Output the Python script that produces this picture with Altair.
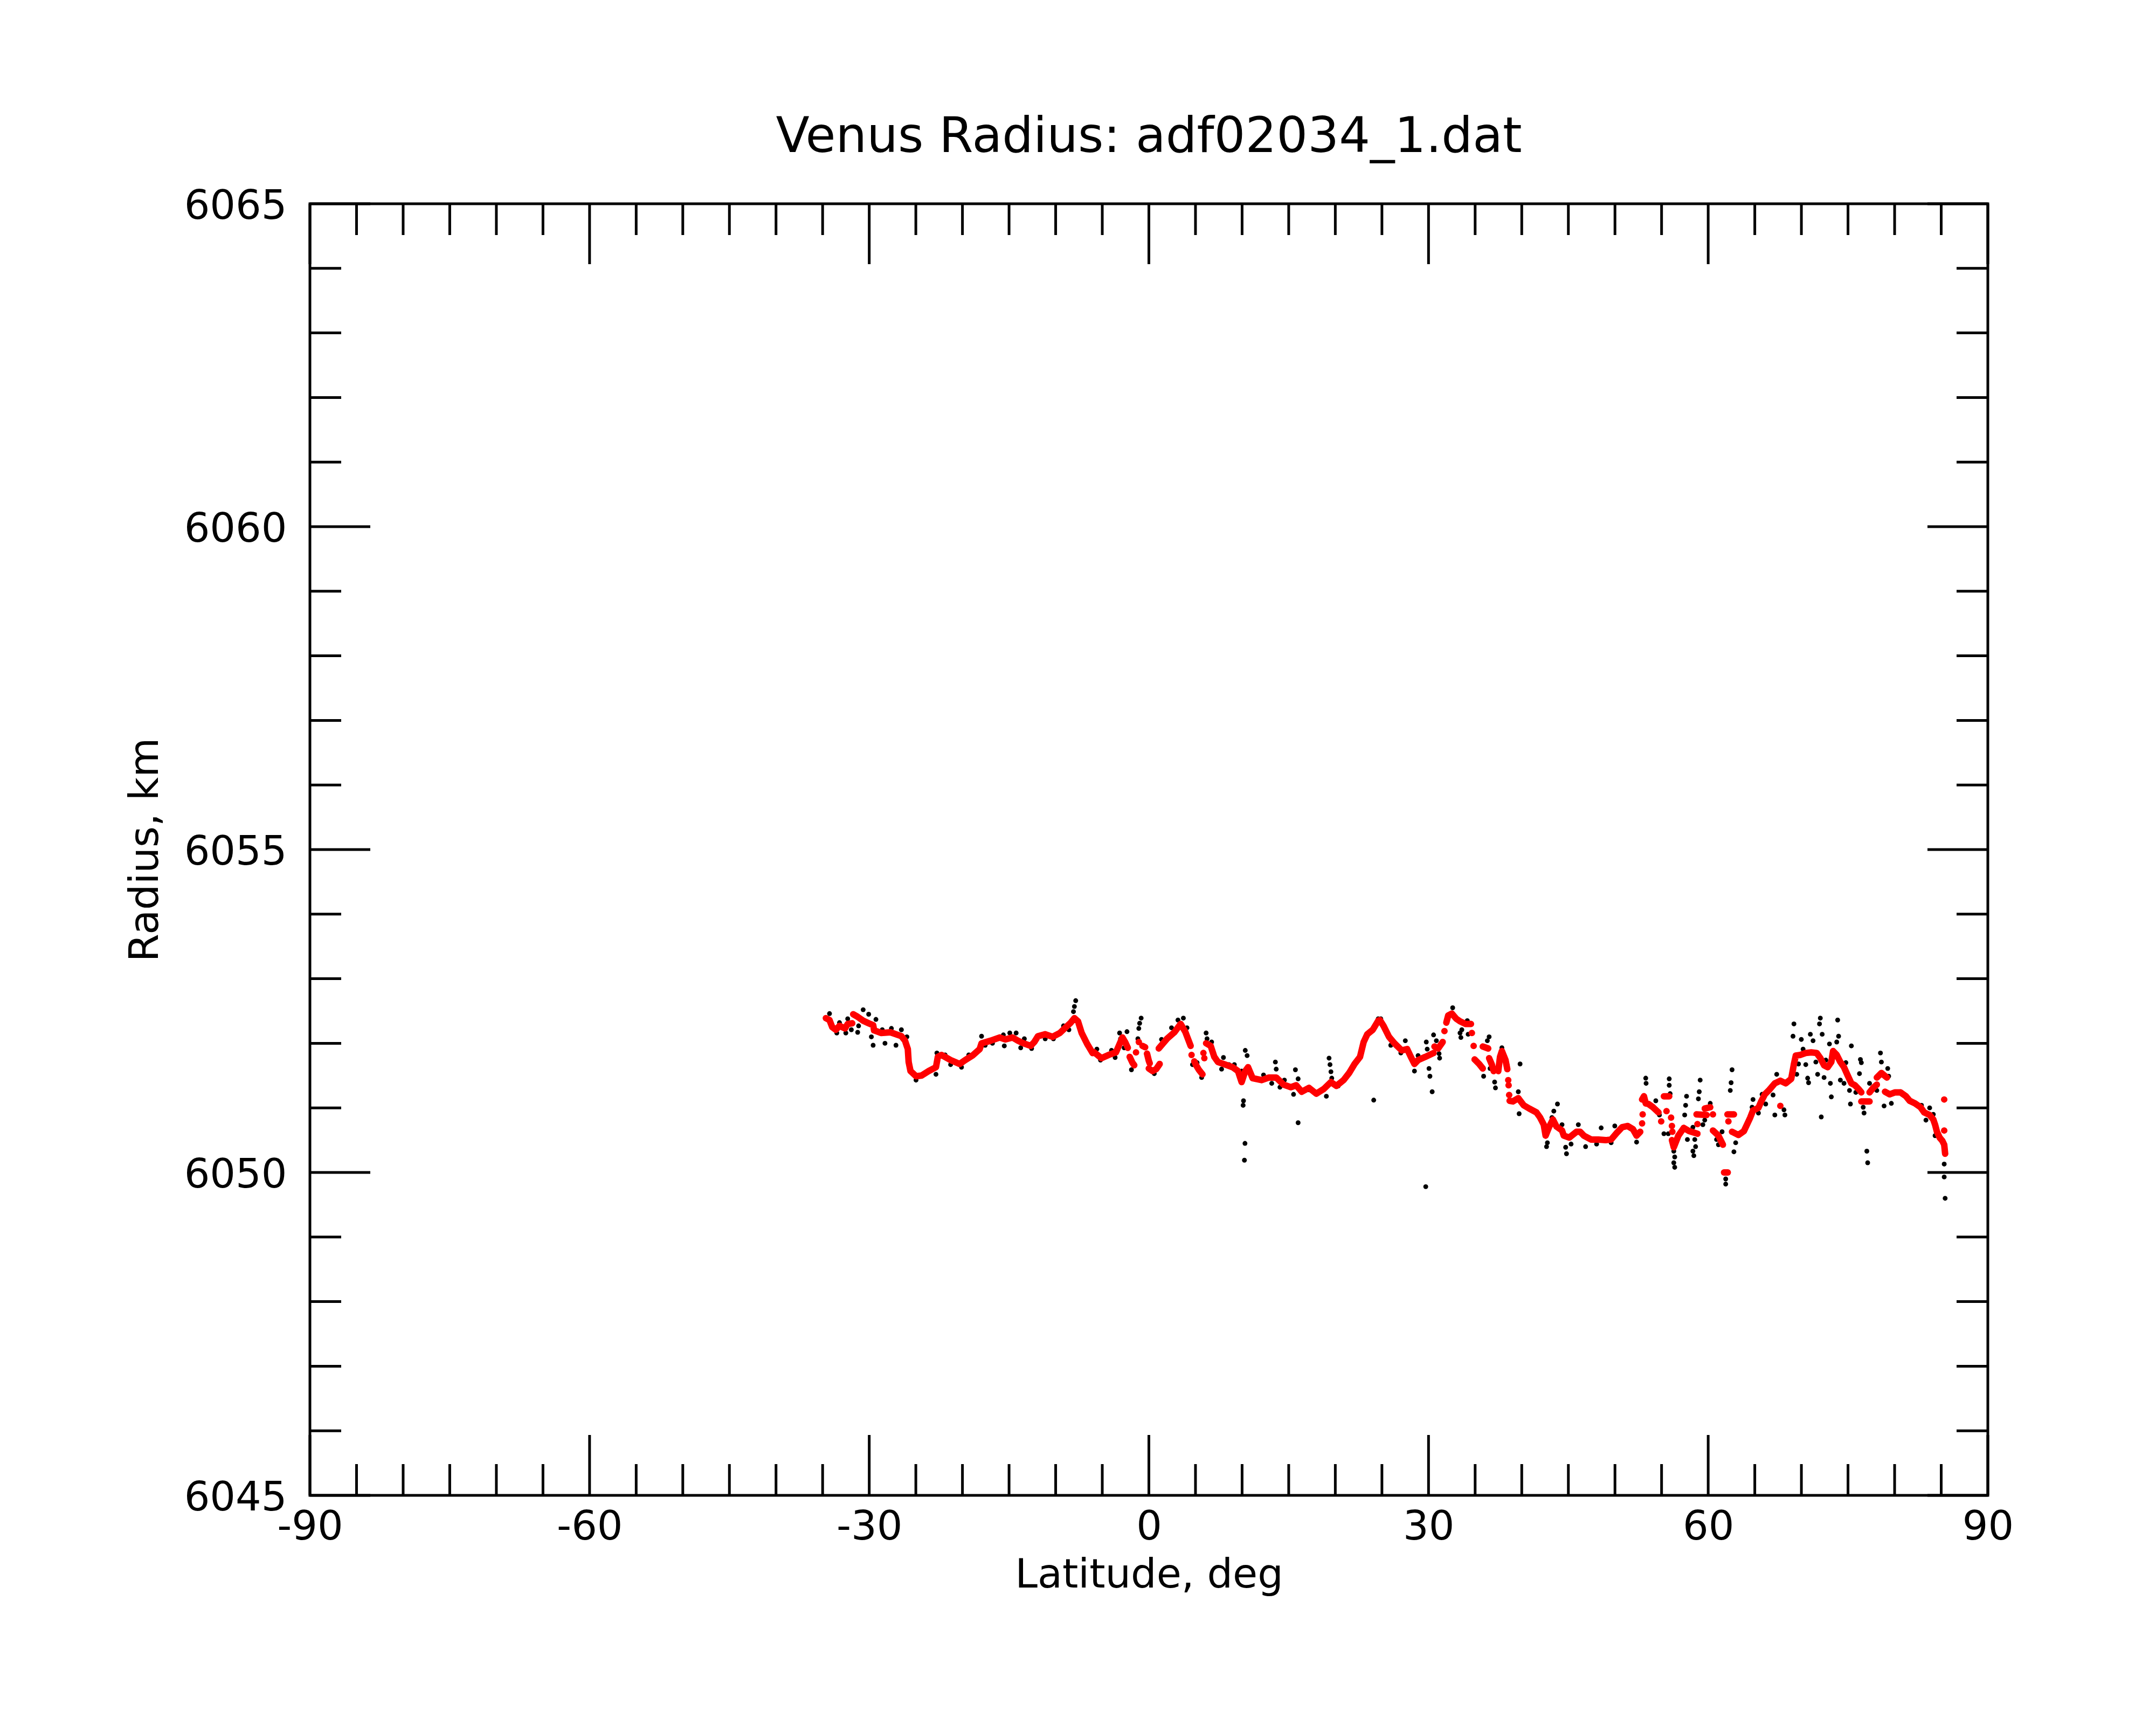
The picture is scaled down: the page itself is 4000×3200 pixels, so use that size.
import altair as alt
import pandas as pd

W, H = 3113, 2396
FONT = "DejaVu Sans"

# ---------------- data ----------------
# red smoothed profile: each inner list is one unbroken run of (latitude, radius)
red_runs = [
    [(-34.65, 6052.39), (-34.26, 6052.36), (-33.97, 6052.25), (-33.58, 6052.21), (-33.19, 6052.27),
     (-32.60, 6052.23), (-32.31, 6052.30), (-31.82, 6052.31)],
    [(-31.72, 6052.45), (-31.24, 6052.41), (-30.65, 6052.35), (-30.06, 6052.31), (-29.57, 6052.28),
     (-29.48, 6052.20), (-28.70, 6052.16), (-27.72, 6052.17), (-27.13, 6052.14), (-26.55, 6052.11),
     (-26.16, 6052.04), (-25.86, 6051.91), (-25.77, 6051.71), (-25.57, 6051.57), (-24.98, 6051.49),
     (-24.40, 6051.50), (-23.62, 6051.57), (-22.84, 6051.63), (-22.64, 6051.79), (-22.25, 6051.82),
     (-21.27, 6051.74), (-20.30, 6051.68), (-19.71, 6051.74), (-18.93, 6051.81), (-18.15, 6051.91),
     (-17.95, 6052.00), (-16.98, 6052.04), (-16.00, 6052.09), (-15.41, 6052.06), (-14.63, 6052.09),
     (-14.04, 6052.04), (-13.46, 6052.00), (-12.68, 6051.96), (-12.29, 6052.02), (-11.90, 6052.11),
     (-11.12, 6052.14), (-10.33, 6052.10), (-9.55, 6052.16), (-8.97, 6052.24), (-8.38, 6052.32),
     (-7.99, 6052.39), (-7.60, 6052.34), (-7.21, 6052.16), (-6.62, 6051.99), (-6.04, 6051.85),
     (-5.87, 6051.86), (-5.09, 6051.77), (-4.31, 6051.82), (-3.53, 6051.86), (-2.84, 6052.09),
     (-2.55, 6052.02), (-2.26, 6051.93)],
    [(-2.06, 6051.79), (-1.77, 6051.70), (-1.57, 6051.66)],
    [(-1.38, 6051.86)],
    [(-1.08, 6052.02)],
    [(-0.69, 6051.96), (-0.40, 6051.94)],
    [(-0.20, 6051.84), (-0.01, 6051.73), (0.09, 6051.69)],
    [(-0.01, 6051.61), (0.39, 6051.57), (0.78, 6051.60), (1.16, 6051.68)],
    [(1.06, 6051.92), (1.94, 6052.07), (2.73, 6052.17), (3.41, 6052.30), (3.90, 6052.18), (4.48, 6051.96)],
    [(4.58, 6051.82)],
    [(4.87, 6051.72), (5.07, 6051.66), (5.36, 6051.59), (5.75, 6051.52)],
    [(5.85, 6051.85)],
    [(5.95, 6051.77)],
    [(6.14, 6052.00), (6.63, 6051.96), (7.02, 6051.79), (7.41, 6051.71), (8.20, 6051.67),
     (8.98, 6051.63), (9.56, 6051.57), (9.95, 6051.40), (10.34, 6051.57), (10.64, 6051.63),
     (11.13, 6051.46), (12.10, 6051.43), (12.88, 6051.47), (13.66, 6051.47), (14.45, 6051.36),
     (15.23, 6051.32), (15.81, 6051.35), (16.40, 6051.25), (17.18, 6051.31), (17.96, 6051.22),
     (18.74, 6051.29), (19.53, 6051.40), (20.11, 6051.34), (20.89, 6051.43), (21.48, 6051.54),
     (22.07, 6051.68), (22.65, 6051.79), (23.04, 6052.02), (23.43, 6052.14), (24.02, 6052.21),
     (24.60, 6052.35), (24.78, 6052.36), (25.17, 6052.27), (25.76, 6052.10), (26.34, 6052.00),
     (27.12, 6051.89), (27.71, 6051.91), (28.10, 6051.79), (28.49, 6051.68), (28.88, 6051.74),
     (29.66, 6051.79), (30.54, 6051.85)],
    [(30.64, 6051.95), (31.03, 6051.92), (31.52, 6052.02)],
    [(31.71, 6052.19)],
    [(31.91, 6052.32), (32.11, 6052.43), (32.50, 6052.46), (32.98, 6052.38), (33.38, 6052.34),
     (33.96, 6052.30), (34.55, 6052.30)],
    [(34.65, 6052.16)],
    [(34.84, 6051.96)],
    [(34.94, 6051.75), (35.43, 6051.68), (35.82, 6051.61)],
    [(35.82, 6051.95), (36.40, 6051.92)],
    [(36.50, 6051.77), (36.79, 6051.67), (36.99, 6051.57)],
    [(37.48, 6051.57), (37.67, 6051.79), (37.87, 6051.88), (38.26, 6051.74), (38.45, 6051.60)],
    [(38.55, 6051.43)],
    [(38.59, 6051.35)],
    [(38.65, 6051.20)],
    [(38.70, 6051.11), (39.04, 6051.10), (39.63, 6051.15), (40.21, 6051.04), (40.80, 6050.99),
     (41.58, 6050.93), (41.97, 6050.85), (42.36, 6050.74), (42.56, 6050.57), (42.95, 6050.71),
     (43.34, 6050.82), (43.73, 6050.71), (44.32, 6050.65), (44.51, 6050.57), (45.10, 6050.54),
     (45.88, 6050.63), (46.27, 6050.63), (46.66, 6050.57), (47.44, 6050.51), (48.22, 6050.51),
     (49.00, 6050.50), (49.59, 6050.51), (50.18, 6050.61), (50.76, 6050.70), (51.35, 6050.72),
     (51.93, 6050.67), (52.32, 6050.57), (52.71, 6050.63)],
    [(52.91, 6050.76)],
    [(52.97, 6050.90)],
    [(52.91, 6051.13), (53.11, 6051.18), (53.30, 6051.07), (53.59, 6051.06), (54.08, 6051.01),
     (54.67, 6050.93)],
    [(54.96, 6050.79)],
    [(55.25, 6051.18), (55.43, 6051.18), (55.82, 6051.18)],
    [(55.53, 6050.95)],
    [(56.02, 6050.85)],
    [(56.11, 6050.72)],
    [(56.16, 6050.63)],
    [(56.11, 6050.50), (56.31, 6050.39), (56.80, 6050.57), (57.38, 6050.69), (57.97, 6050.64),
     (58.85, 6050.60)],
    [(58.85, 6050.75)],
    [(58.75, 6050.90), (59.83, 6050.89)],
    [(59.63, 6050.99), (60.22, 6051.01)],
    [(60.51, 6050.90)],
    [(60.51, 6050.65), (61.10, 6050.57), (61.58, 6050.43)],
    [(61.70, 6050.00), (62.10, 6050.00)],
    [(62.07, 6050.90), (62.76, 6050.90)],
    [(62.17, 6050.79)],
    [(62.56, 6050.63), (63.24, 6050.58), (63.83, 6050.64), (64.22, 6050.76), (64.51, 6050.85),
     (64.81, 6050.96), (65.39, 6051.00), (65.69, 6051.10), (66.08, 6051.21), (66.56, 6051.28),
     (67.15, 6051.38), (67.74, 6051.42), (68.32, 6051.38), (68.91, 6051.45), (69.10, 6051.60),
     (69.20, 6051.68), (69.40, 6051.81), (69.89, 6051.82), (70.47, 6051.85), (71.06, 6051.86),
     (71.64, 6051.85), (72.04, 6051.77), (72.43, 6051.66), (72.82, 6051.63), (73.21, 6051.71),
     (73.40, 6051.88), (73.79, 6051.82), (74.18, 6051.71), (74.57, 6051.63), (74.97, 6051.50),
     (75.36, 6051.38), (75.75, 6051.35), (76.14, 6051.29), (76.43, 6051.24)],
    [(76.43, 6051.10), (77.31, 6051.10)],
    [(77.31, 6051.24), (77.70, 6051.31), (78.09, 6051.36)],
    [(78.09, 6051.47), (78.58, 6051.54), (79.17, 6051.47)],
    [(78.97, 6051.25), (79.46, 6051.21), (80.05, 6051.24), (80.63, 6051.24), (81.22, 6051.18),
     (81.61, 6051.11), (82.19, 6051.07), (82.78, 6051.01), (83.17, 6050.93), (83.76, 6050.89),
     (84.15, 6050.82), (84.34, 6050.74), (84.54, 6050.63), (84.83, 6050.54), (85.12, 6050.49),
     (85.32, 6050.43), (85.42, 6050.29)],
    [(85.32, 6051.13)],
    [(85.32, 6050.65)],
    [(67.74, 6051.03)],
]

# black raw samples (latitude, radius)
black_pts = [
    (-34.26, 6052.46), (-33.48, 6052.16), (-33.19, 6052.32), (-32.51, 6052.16), (-32.31, 6052.38),
    (-31.92, 6052.21), (-31.24, 6052.17), (-31.14, 6052.27), (-30.65, 6052.52), (-30.06, 6052.45),
    (-29.77, 6052.10), (-29.58, 6051.97), (-29.28, 6052.37), (-28.60, 6052.21), (-28.31, 6052.00),
    (-27.62, 6052.23), (-27.13, 6051.97), (-26.55, 6052.21), (-25.96, 6052.10), (-24.98, 6051.43),
    (-22.84, 6051.52), (-22.74, 6051.85), (-21.86, 6051.82), (-21.27, 6051.67), (-20.10, 6051.63),
    (-19.32, 6051.82), (-17.95, 6052.11), (-17.56, 6051.97), (-16.78, 6052.00), (-15.61, 6052.13),
    (-15.51, 6051.96), (-14.92, 6052.16), (-14.24, 6052.16), (-13.75, 6051.93), (-13.36, 6052.07),
    (-12.58, 6051.92), (-11.12, 6052.07), (-10.24, 6052.07), (-9.16, 6052.27), (-8.58, 6052.21),
    (-8.09, 6052.49), (-7.99, 6052.57), (-7.85, 6052.66), (-6.82, 6052.07),
    (-5.58, 6051.91), (-5.19, 6051.74), (-4.01, 6051.89), (-3.62, 6051.78), (-3.14, 6052.16),
    (-3.04, 6052.07), (-2.65, 6051.93), (-2.35, 6052.18), (-1.87, 6051.59), (-1.18, 6052.07),
    (-1.08, 6052.23), (-0.99, 6052.31), (-0.83, 6052.39), (0.58, 6051.53), (1.36, 6052.06),
    (2.43, 6052.24), (3.12, 6052.36), (3.70, 6052.39), (4.09, 6052.24), (4.68, 6051.67),
    (5.17, 6051.70), (5.66, 6051.47), (6.14, 6052.16), (6.24, 6052.07), (6.73, 6052.02),
    (7.80, 6051.60), (8.00, 6051.78), (8.59, 6051.67), (9.17, 6051.67), (9.95, 6051.57),
    (10.15, 6051.11), (10.11, 6051.04), (10.34, 6051.89), (10.54, 6051.81), (10.31, 6050.45),
    (10.25, 6050.19), (12.30, 6051.51), (13.18, 6051.38), (13.57, 6051.71), (13.66, 6051.60),
    (14.06, 6051.32), (14.54, 6051.43), (15.52, 6051.21), (15.72, 6051.59), (16.01, 6051.45),
    (16.01, 6050.77), (17.18, 6051.28), (19.04, 6051.18), (19.33, 6051.77), (19.43, 6051.67),
    (19.53, 6051.56), (19.62, 6051.46), (20.31, 6051.34), (24.12, 6051.12), (24.60, 6052.38),
    (24.88, 6052.38), (25.95, 6051.97), (27.03, 6051.85), (27.51, 6052.04), (28.49, 6051.57),
    (28.88, 6051.81), (29.76, 6052.02), (29.86, 6051.91), (30.05, 6051.61), (30.15, 6051.49),
    (30.39, 6051.25), (29.70, 6049.78), (30.54, 6052.13), (30.84, 6052.04), (31.13, 6051.84),
    (31.19, 6051.77), (32.59, 6052.55), (33.38, 6052.16), (33.47, 6052.09), (33.57, 6052.21),
    (34.16, 6052.35), (34.25, 6052.14), (35.91, 6051.49), (36.31, 6052.04), (36.50, 6052.10),
    (36.60, 6051.61), (37.09, 6051.40), (37.18, 6051.31), (37.87, 6051.93), (38.45, 6051.66),
    (39.63, 6051.25), (39.72, 6050.91), (39.82, 6051.68), (41.78, 6050.89), (42.75, 6050.46),
    (42.66, 6050.40), (43.24, 6050.85), (43.44, 6050.95), (43.83, 6051.06), (44.32, 6050.74),
    (44.80, 6050.29), (44.71, 6050.39), (45.29, 6050.44), (46.07, 6050.74), (46.85, 6050.40),
    (48.03, 6050.44), (48.52, 6050.69), (49.59, 6050.46), (49.98, 6050.72), (52.32, 6050.47),
    (53.30, 6051.46), (53.34, 6051.38), (54.38, 6051.11), (54.77, 6050.89), (55.25, 6050.60),
    (55.82, 6051.45), (55.82, 6051.35), (55.92, 6051.22), (55.72, 6050.60), (56.31, 6050.33),
    (56.41, 6050.24), (56.31, 6050.15), (56.41, 6050.08), (57.68, 6051.18), (57.58, 6051.04),
    (57.48, 6050.89), (57.77, 6050.51), (58.36, 6050.70), (58.36, 6050.33), (58.46, 6050.26),
    (58.65, 6050.40), (58.56, 6050.51), (59.04, 6051.25), (58.95, 6051.14), (59.14, 6051.43),
    (59.43, 6050.74), (59.63, 6050.81), (60.22, 6051.07), (60.90, 6050.51), (61.10, 6050.43),
    (61.49, 6050.63), (61.88, 6049.90), (61.88, 6049.82), (62.37, 6051.27), (62.46, 6051.39),
    (62.56, 6051.59), (62.76, 6050.32), (62.95, 6050.46), (64.81, 6051.13), (64.71, 6051.01),
    (65.39, 6050.92), (65.78, 6051.21), (66.17, 6051.06), (66.96, 6051.20), (67.15, 6050.89),
    (67.35, 6051.52), (68.13, 6050.97), (68.23, 6050.89), (69.10, 6052.11), (69.20, 6052.30),
    (69.50, 6051.52), (69.69, 6051.68), (69.99, 6052.06), (70.18, 6051.91), (70.47, 6051.67),
    (70.67, 6051.46), (70.77, 6051.39), (70.96, 6052.14), (71.25, 6052.04), (71.55, 6051.71),
    (71.74, 6051.52), (71.94, 6052.30), (72.03, 6052.39), (72.23, 6052.14), (72.13, 6050.86),
    (72.43, 6051.47), (72.62, 6051.74), (73.01, 6051.99), (73.11, 6051.38), (73.21, 6051.17),
    (73.79, 6052.02), (73.89, 6052.36), (73.99, 6052.11), (74.18, 6051.43), (74.57, 6051.38),
    (74.77, 6051.70), (75.16, 6051.27), (75.26, 6051.06), (75.36, 6051.96), (75.84, 6051.24),
    (76.23, 6051.53), (76.33, 6051.75), (76.43, 6051.70), (76.63, 6051.01), (76.72, 6050.92),
    (77.02, 6050.33), (77.11, 6050.15), (77.31, 6051.38), (78.09, 6051.27), (78.48, 6051.85),
    (78.58, 6051.71), (78.87, 6051.03), (79.36, 6051.49), (79.26, 6051.61), (79.65, 6051.07),
    (80.63, 6051.25), (82.88, 6051.04), (83.36, 6050.81), (83.76, 6051.00), (84.15, 6050.90),
    (84.34, 6050.57), (85.32, 6050.13), (85.32, 6049.93), (85.42, 6049.60),
]

x_major = [-90, -60, -30, 0, 30, 60, 90]
x_minor = [-85, -80, -75, -70, -65, -55, -50, -45, -40, -35, -25, -20, -15, -10, -5,
           5, 10, 15, 20, 25, 35, 40, 45, 50, 55, 65, 70, 75, 80, 85]
y_major = [6045, 6050, 6055, 6060, 6065]
y_minor = [6046, 6047, 6048, 6049, 6051, 6052, 6053, 6054, 6056, 6057, 6058, 6059,
           6061, 6062, 6063, 6064]

# ---------------- tables ----------------
red_df = pd.DataFrame(
    [{"lat": la, "rad": ra, "seg": i} for i, run in enumerate(red_runs) for la, ra in run]
)
blk_df = pd.DataFrame(black_pts, columns=["lat", "rad"])

xscale = alt.Scale(domain=[-90, 90], nice=False, zero=False)
yscale = alt.Scale(domain=[6045, 6065], nice=False, zero=False)

xaxis = alt.Axis(values=x_major, labelExpr="'' + datum.value", title="Latitude, deg",
                 ticks=False, tickSize=0, domain=False, grid=False,
                 labelFont=FONT, labelFontSize=75, labelColor="black", labelLimit=0,
                 labelBaseline="alphabetic", labelPadding=81, labelFlush=False, labelOverlap=False,
                 titleFont=FONT, titleFontSize=75, titleFontWeight="normal", titleColor="black",
                 titleBaseline="alphabetic", titleAlign="center", titleX=W / 2, titleY=170)
yaxis = alt.Axis(values=y_major, labelExpr="'' + datum.value", title="Radius, km",
                 ticks=False, tickSize=0, domain=False, grid=False,
                 labelFont=FONT, labelFontSize=75, labelColor="black", labelLimit=0,
                 labelBaseline="alphabetic", labelOffset=27, labelPadding=43,
                 labelFlush=False, labelOverlap=False,
                 titleFont=FONT, titleFontSize=75, titleFontWeight="normal", titleColor="black",
                 titleBaseline="alphabetic", titleAlign="center", titleAngle=270,
                 titleX=-283, titleY=H / 2)

X = alt.X("lat:Q", scale=xscale, axis=xaxis)
Y = alt.Y("rad:Q", scale=yscale, axis=yaxis)

blk = alt.Chart(blk_df).mark_circle(color="black", size=80, opacity=1).encode(x=X, y=Y)
red_line = alt.Chart(red_df).mark_line(color="#ff0000", strokeWidth=12, strokeCap="round",
                                       strokeJoin="round").encode(x=X, y=Y, detail="seg:N")
red_pts = alt.Chart(red_df).mark_circle(color="#ff0000", size=120, opacity=1).encode(x=X, y=Y)

TICK_W = 5
MAJ, MIN = 112, 58
xmaj_df = pd.DataFrame({"lat": x_major})
xmin_df = pd.DataFrame({"lat": x_minor})
ymaj_df = pd.DataFrame({"rad": y_major})
ymin_df = pd.DataFrame({"rad": y_minor})


def rule(df):
    return alt.Chart(df).mark_rule(color="black", strokeWidth=TICK_W)


ticks = [
    rule(xmaj_df).encode(x=X, y=alt.value(H), y2=alt.value(H - MAJ)),
    rule(xmin_df).encode(x=X, y=alt.value(H), y2=alt.value(H - MIN)),
    rule(xmaj_df).encode(x=X, y=alt.value(0), y2=alt.value(MAJ)),
    rule(xmin_df).encode(x=X, y=alt.value(0), y2=alt.value(MIN)),
    rule(ymaj_df).encode(y=Y, x=alt.value(0), x2=alt.value(MAJ)),
    rule(ymin_df).encode(y=Y, x=alt.value(0), x2=alt.value(MIN)),
    rule(ymaj_df).encode(y=Y, x=alt.value(W), x2=alt.value(W - MAJ)),
    rule(ymin_df).encode(y=Y, x=alt.value(W), x2=alt.value(W - MIN)),
]

chart = alt.layer(blk, red_line, red_pts, *ticks).properties(
    width=W, height=H,
    title=alt.TitleParams("Venus Radius: adf02034_1.dat", font=FONT, fontSize=91,
                          fontWeight="normal", color="black", anchor="middle",
                          frame="group", baseline="alphabetic", offset=-28),
    autosize=alt.AutoSizeParams(type="none"),
    padding={"left": 567, "top": 370, "right": 304, "bottom": 418},
).configure(background="white").configure_view(stroke="black", strokeWidth=5)

chart.save("out.html", embed_options={"renderer": "svg", "actions": False})
